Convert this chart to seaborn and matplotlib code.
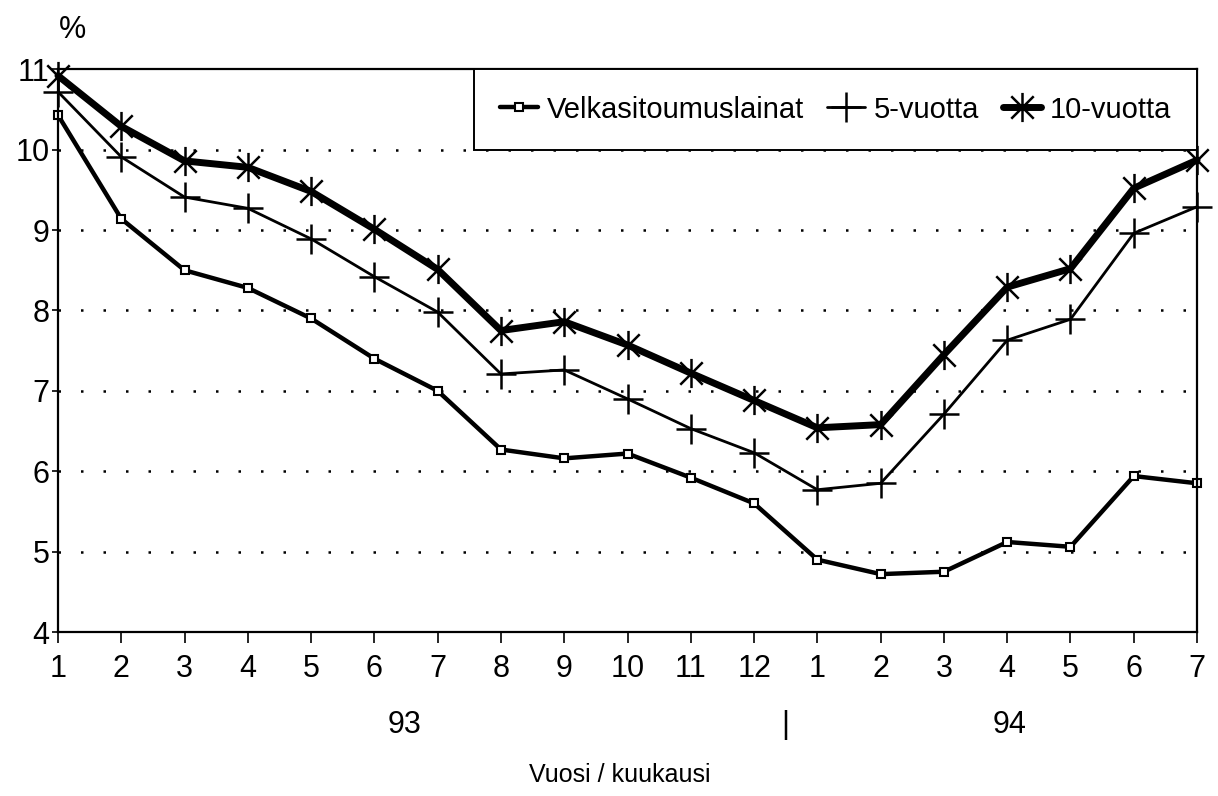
import numpy as np
import pandas as pd
import matplotlib
matplotlib.use("Agg")
import matplotlib.pyplot as plt
from matplotlib.path import Path
import seaborn as sns

# data (interest rates, %)
months = ["1", "2", "3", "4", "5", "6", "7", "8", "9", "10", "11", "12",
          "1", "2", "3", "4", "5", "6", "7"]
velka = [10.43, 9.14, 8.5, 8.28, 7.9, 7.4, 7.0, 6.27, 6.16, 6.22, 5.92, 5.6,
         4.9, 4.72, 4.75, 5.12, 5.06, 5.94, 5.85]
v5 = [10.72, 9.91, 9.41, 9.27, 8.89, 8.42, 7.98, 7.21, 7.26, 6.9, 6.53, 6.23,
      5.77, 5.85, 6.71, 7.63, 7.89, 8.96, 9.29]
v10 = [10.92, 10.29, 9.86, 9.78, 9.48, 9.01, 8.51, 7.75, 7.86, 7.57, 7.22, 6.88,
       6.54, 6.58, 7.45, 8.29, 8.52, 9.52, 9.87]
series_names = ["Velkasitoumuslainat", "5-vuotta", "10-vuotta"]
years = ["93", "94"]

sns.set_style("white")
plt.rcParams['font.family'] = ['Liberation Sans', 'DejaVu Sans']
plt.rcParams['text.color'] = 'black'
plt.rcParams['xtick.bottom'] = True
plt.rcParams['ytick.left'] = True

x = np.arange(len(months))

# asterisk marker like the spreadsheet "star": an x with a vertical bar
star = Path([(-1, -1), (1, 1), (-1, 1), (1, -1), (0, -1.3), (0, 1.3)],
            [Path.MOVETO, Path.LINETO, Path.MOVETO, Path.LINETO, Path.MOVETO, Path.LINETO])

fig = plt.figure(figsize=(12.18, 7.96), dpi=100)
ax = fig.add_axes([0.0476, 0.206, 0.9352, 0.707])

sns.lineplot(x=x, y=velka, ax=ax, color="black", lw=3.2, marker="s", ms=6,
             mfc="white", mec="black", mew=1.5, label=series_names[0], clip_on=False)
sns.lineplot(x=x, y=v5, ax=ax, color="black", lw=2, marker="+", ms=21,
             mec="black", mew=1.8, label=series_names[1], clip_on=False)
sns.lineplot(x=x, y=v10, ax=ax, color="black", lw=5, marker=star, ms=21,
             mec="black", mfc="none", mew=1.8, label=series_names[2], clip_on=False)

ax.set_xlim(0, len(months) - 1)
ax.set_ylim(4, 11)
ax.set_xticks(x)
ax.set_xticklabels(months)
ax.set_yticks(range(4, 12))
ax.tick_params(axis="both", labelsize=22, direction="out", length=8, width=1.2,
               colors="black", pad=8)
ax.tick_params(axis="y", length=4, pad=2)
for s in ax.spines.values():
    s.set_color("black")
    s.set_linewidth(1.6)

# dotted horizontal gridlines
for v in range(5, 11):
    ax.axhline(v, color="black", lw=1.8, ls=(0, (1, 8)), zorder=0)

ax.set_xlabel("")
ax.set_ylabel("")

leg = ax.legend(loc="upper right", ncol=3, fontsize=21, frameon=True, fancybox=False,
                borderaxespad=0, borderpad=0.9, handlelength=1.3, handletextpad=0.3,
                columnspacing=0.8)
leg.get_frame().set_edgecolor("black")
leg.get_frame().set_linewidth(1.4)
leg.get_frame().set_alpha(1)

fig.text(72 / 1218, 1 - 30 / 796, "%", fontsize=22, ha="center", va="center")
fig.text(405 / 1218, 1 - 725 / 796, years[0], fontsize=22, ha="center", va="center")
fig.text(785 / 1218, 1 - 725 / 796, "|", fontsize=22, ha="center", va="center")
fig.text(1010 / 1218, 1 - 725 / 796, years[1], fontsize=22, ha="center", va="center")
fig.text(620 / 1218, 1 - 775 / 796, "Vuosi / kuukausi", fontsize=18, ha="center", va="center")

fig.savefig("out.png", dpi=100)
